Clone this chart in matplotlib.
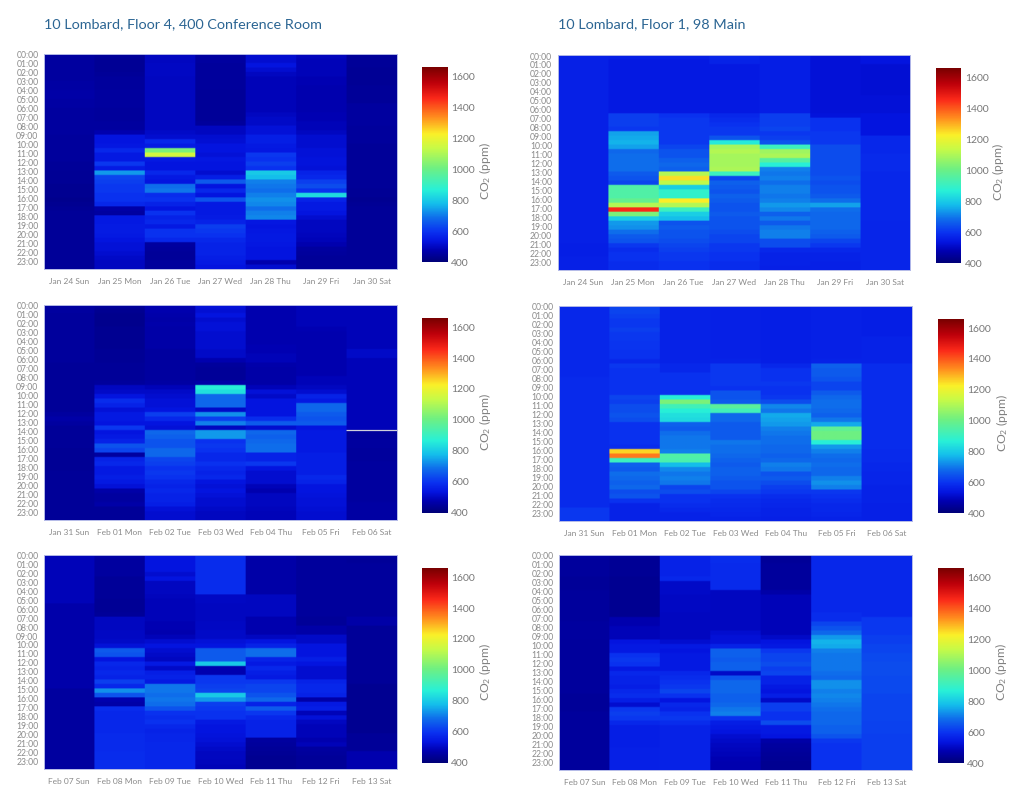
import matplotlib
matplotlib.use('Agg')
import matplotlib.pyplot as plt
from matplotlib.colors import LinearSegmentedColormap
import numpy as np

plt.rcParams['font.family'] = ['Lato', 'DejaVu Sans']
plt.rcParams['mathtext.default'] = 'regular'

HOURS = [f'{h:02d}:00' for h in range(24)]

DAYS_1 = ['Jan 24 Sun', 'Jan 25 Mon', 'Jan 26 Tue', 'Jan 27 Wed', 'Jan 28 Thu', 'Jan 29 Fri', 'Jan 30 Sat']
DAYS_2 = ['Jan 31 Sun', 'Feb 01 Mon', 'Feb 02 Tue', 'Feb 03 Wed', 'Feb 04 Thu', 'Feb 05 Fri', 'Feb 06 Sat']
DAYS_3 = ['Feb 07 Sun', 'Feb 08 Mon', 'Feb 09 Tue', 'Feb 10 Wed', 'Feb 11 Thu', 'Feb 12 Fri', 'Feb 13 Sat']

TITLE_CONF = '10 Lombard, Floor 4, 400 Conference Room'
TITLE_MAIN = '10 Lombard, Floor 1, 98 Main'

# CO2 ppm, one list per day, half hour rows (16 rows = 8 hours per line)
conf_1 = [
    [450,450,450,450,450,450,455,455,460,460,455,455,450,450,450,450,
     450,450,445,445,445,445,445,445,440,440,435,435,435,430,430,430,
     425,430,435,440,440,440,440,440,440,440,440,440,440,440,440,440],
    [440,435,435,435,440,445,445,445,450,450,450,450,445,445,445,450,
     450,470,530,530,535,570,540,540,600,545,730,620,610,600,600,590,
     590,570,460,450,540,540,545,545,540,530,520,520,510,500,490,490],
    [490,490,495,495,495,490,490,490,490,490,490,490,490,490,490,490,
     490,500,510,570,545,1020,1150,540,530,530,570,540,530,680,690,580,
     590,560,530,590,560,570,540,590,590,570,450,445,440,440,445,445],
    [450,450,445,445,445,445,445,445,440,440,440,440,440,440,440,445,
     490,490,510,515,530,530,520,535,530,530,510,550,650,530,570,530,
     640,540,540,540,545,560,610,600,590,570,560,560,560,550,540,530],
    [510,510,530,510,490,480,480,480,480,480,480,480,480,490,500,500,
     520,520,550,550,540,535,600,590,610,590,790,770,700,690,680,700,
     720,710,680,700,710,535,530,535,540,540,535,530,530,530,470,510],
    [485,480,480,480,480,475,475,470,470,470,470,470,470,475,475,480,
     480,490,510,510,510,520,520,525,525,520,560,570,610,630,590,820,
     560,540,540,530,510,490,490,490,485,480,470,450,445,440,440,440],
    [440,440,440,435,435,435,435,440,440,440,440,450,450,450,450,450,
     445,445,445,445,440,440,440,440,440,440,440,440,440,440,435,435,
     430,435,440,440,440,440,440,440,440,440,440,440,440,440,440,440],
]

conf_2 = [
    [450,450,445,445,445,445,445,445,445,445,445,445,445,440,440,440,
     440,440,440,440,440,440,440,440,450,460,450,440,440,440,440,440,
     435,435,435,435,435,440,440,440,440,440,440,440,440,440,440,440],
    [440,430,425,425,425,430,430,430,430,430,435,435,435,440,440,440,
     440,445,490,500,530,580,560,520,540,540,530,600,530,540,560,640,
     620,450,560,570,540,540,550,540,520,460,450,450,460,440,440,440],
    [470,470,465,460,465,460,460,460,460,460,450,450,450,450,450,450,
     450,455,480,500,510,520,520,530,610,570,530,520,670,660,640,640,
     670,670,620,610,590,600,590,570,560,570,560,560,550,520,510,510],
    [520,515,530,510,520,520,510,510,510,510,500,500,470,445,440,440,
     440,460,860,830,670,670,670,500,720,610,700,490,730,730,590,600,
     590,570,570,590,570,560,570,530,520,530,520,510,510,500,490,490],
    [470,470,470,470,470,470,470,470,470,475,475,480,480,465,460,460,
     460,460,480,520,500,530,530,530,530,580,650,510,670,660,670,680,
     680,560,560,600,530,510,510,510,480,470,490,490,490,485,480,480],
    [480,480,480,480,480,475,470,470,470,470,470,470,470,470,470,470,
     480,480,490,510,560,540,670,670,650,640,650,530,540,540,540,540,
     540,550,550,550,550,550,570,560,530,530,525,520,520,515,510,510],
    [480,480,480,480,480,480,480,480,480,480,500,500,480,480,480,480,
     480,480,480,480,480,480,480,480,480,480,480,480,445,445,450,450,
     445,445,445,450,450,450,450,450,450,450,450,450,455,455,455,455],
]

conf_3 = [
    [480,480,480,480,480,480,480,480,480,480,480,465,465,465,465,465,
     465,465,465,465,465,465,465,465,465,465,465,465,465,465,450,450,
     450,450,450,450,450,450,450,450,450,450,450,450,450,450,450,450],
    [455,450,450,450,450,440,440,440,440,440,435,435,435,440,490,490,
     490,495,495,500,520,650,640,530,570,560,570,560,610,570,720,640,
     470,460,580,570,570,570,570,570,575,575,575,575,580,580,580,580],
    [530,530,530,530,510,530,490,490,490,485,480,480,480,480,480,475,
     475,470,480,510,530,510,500,490,540,500,550,560,540,690,690,680,
     690,680,640,590,580,590,570,560,565,565,570,570,570,570,570,570],
    [580,580,580,580,580,580,580,580,580,495,495,490,490,490,490,495,
     495,500,500,520,530,650,650,650,790,470,470,600,600,610,620,790,
     730,610,600,590,590,540,530,530,525,520,510,500,490,490,485,480],
    [465,460,460,460,460,460,460,460,460,490,490,490,490,490,470,470,
     470,470,490,530,560,680,680,560,540,570,550,540,600,620,620,640,
     670,560,650,600,570,560,560,560,560,450,445,440,435,430,430,430],
    [445,445,445,445,445,445,445,445,445,445,445,445,445,445,440,440,
     460,460,500,500,530,530,530,550,530,510,510,510,560,570,570,560,
     460,540,550,480,520,490,480,480,480,470,480,450,445,440,440,440],
    [445,440,445,445,445,445,445,445,445,445,445,445,445,445,460,460,
     440,440,440,440,440,440,440,440,440,440,440,440,440,430,430,430,
     430,430,430,430,430,430,430,430,440,440,440,440,470,470,470,470],
]

main_1 = [
    [555,555,555,555,555,555,555,555,555,555,555,555,555,555,555,555,
     555,555,555,555,555,555,555,555,555,555,555,555,555,555,555,555,
     555,555,555,555,555,555,555,555,555,555,550,550,550,555,555,555],
    [550,540,540,540,540,540,540,540,540,540,540,540,540,610,610,610,
     600,740,750,760,740,670,680,680,680,680,650,640,620,940,940,940,
     980,1100,1450,1020,800,730,720,680,650,640,600,580,590,590,580,580],
    [550,540,540,540,540,540,540,540,540,540,540,540,540,590,600,600,
     600,600,600,600,620,640,640,660,670,660,1100,1240,1120,800,880,880,
     1220,1100,900,800,770,640,650,640,640,630,620,610,600,600,590,590],
    [565,560,540,540,540,540,540,540,540,540,540,540,540,570,580,590,
     600,600,640,850,1080,1100,1080,1080,1080,1090,900,620,660,650,640,660,
     650,640,640,650,640,640,640,630,620,620,600,600,590,590,580,580],
    [550,550,550,550,550,550,550,550,550,550,550,550,550,610,610,610,
     620,600,610,640,900,1070,1090,950,860,700,690,700,680,700,700,690,
     700,730,710,660,690,650,690,700,700,630,630,570,560,560,560,555],
    [520,520,520,520,520,520,520,520,520,520,520,520,520,525,590,590,
     590,600,600,600,630,630,630,630,630,630,630,640,630,640,640,650,
     680,740,680,670,670,670,670,660,650,620,600,570,560,560,555,555],
    [530,530,515,515,515,515,515,515,515,520,520,520,520,530,530,530,
     530,530,570,570,570,570,575,575,575,575,570,570,570,570,570,570,
     570,570,570,570,570,565,565,565,565,565,565,565,565,565,565,565],
]

main_2 = [
    [570,570,570,570,570,570,570,570,570,570,570,570,570,570,570,570,
     575,575,575,575,575,575,575,575,575,575,575,575,575,575,575,575,
     575,575,575,575,575,575,575,575,575,575,575,575,575,600,600,600],
    [620,620,610,600,600,610,600,600,595,595,590,590,570,600,590,590,
     590,590,590,590,620,610,630,630,640,630,590,590,590,590,590,580,
     1250,1350,900,660,650,680,670,660,670,630,640,590,560,560,560,560],
    [560,560,560,560,560,560,560,560,560,560,560,560,560,570,570,590,
     590,590,590,590,860,1020,910,860,830,820,660,650,680,690,690,690,
     700,940,930,770,710,690,700,690,620,630,590,590,580,570,560,560],
    [555,555,555,555,555,555,555,555,555,555,555,555,560,600,600,600,
     600,600,590,640,640,650,960,910,670,670,650,650,650,650,690,680,
     680,670,660,650,660,660,650,640,640,620,590,580,575,570,565,560],
    [550,550,550,550,550,550,550,550,550,550,550,550,550,570,590,590,
     590,600,590,590,600,630,710,690,750,740,730,700,690,680,680,670,
     670,660,670,700,690,640,650,630,610,600,580,570,565,560,560,555],
    [555,555,555,555,555,555,555,555,555,555,555,555,560,660,650,650,
     640,620,620,650,670,680,680,670,660,690,750,970,1000,1000,860,730,
     700,680,670,680,670,670,700,720,700,600,590,580,570,570,565,560],
    [550,550,550,550,550,550,550,560,560,560,560,560,560,580,580,580,
     580,580,580,580,580,580,580,580,580,580,580,580,580,580,580,580,
     575,575,575,570,570,565,565,565,560,560,560,560,555,555,555,555],
]

main_3 = [
    [450,445,445,445,445,440,440,440,445,445,445,445,445,445,445,450,
     450,450,450,445,445,445,445,445,445,445,445,445,445,445,445,440,
     440,440,440,445,445,445,445,445,445,445,445,445,445,445,445,445],
    [440,435,435,435,435,430,430,430,430,430,430,430,430,430,470,470,
     480,480,480,530,540,540,590,600,590,540,570,560,560,550,570,580,
     550,510,600,610,600,570,550,550,550,550,550,555,555,555,555,555],
    [560,560,560,560,560,570,500,500,500,495,495,495,495,490,490,490,
     490,490,490,510,540,530,540,540,540,540,570,580,590,600,620,590,
     530,570,560,590,600,580,560,560,560,560,560,560,560,560,560,560],
    [580,580,575,575,575,575,575,575,490,490,490,490,490,490,490,490,
     490,510,520,520,560,660,660,650,660,660,500,640,670,670,670,660,
     660,670,690,700,590,550,540,530,510,500,490,485,480,475,470,470],
    [440,440,445,445,445,445,445,445,460,480,480,480,480,480,480,480,
     480,480,500,530,540,600,620,620,630,610,620,560,560,540,530,550,
     500,610,610,590,590,630,540,540,530,460,450,445,440,435,430,430],
    [570,570,570,570,570,570,570,570,570,570,570,570,570,580,580,620,
     640,670,730,760,750,700,690,690,690,690,680,670,720,720,700,710,
     700,690,680,670,670,670,660,660,640,600,590,590,590,590,590,590],
    [570,570,570,570,570,570,570,570,570,570,570,570,570,570,600,600,
     600,600,610,610,620,620,625,625,630,630,630,625,625,625,625,620,
     620,620,620,620,620,615,615,615,610,610,610,610,610,610,610,610],
]

VMIN, VMAX = 394, 1652
CBAR_TICKS = [400, 600, 800, 1000, 1200, 1400, 1600]
TICK_COLOR = '#8a8a8a'
TITLE_COLOR = '#2b6593'
SPINE_COLOR = '#b4bae8'

# softer than plain jet, sampled off the reference colour bar
CMAP_STOPS = [(394, '#000078'), (470, '#0000b0'), (530, '#0415e0'), (590, '#0a32f0'),
              (680, '#0f6eeb'), (770, '#14beeb'), (860, '#28f0d7'), (1000, '#6ef082'),
              (1130, '#c8fa46'), (1220, '#faf028'), (1330, '#ff8c1e'), (1450, '#fa2819'),
              (1550, '#be000a'), (1652, '#780000')]
co2_cmap = LinearSegmentedColormap.from_list(
    'co2', [((v - VMIN) / (VMAX - VMIN), c) for v, c in CMAP_STOPS], N=512)

W, H = 1024, 803
fig = plt.figure(figsize=(W / 100, H / 100), dpi=100, facecolor='white')


def px_axes(x0, x1, y0, y1):
    return fig.add_axes([x0 / W, 1 - y1 / H, (x1 - x0) / W, (y1 - y0) / H])


def draw_panel(data, days, box, cbox, gap=None):
    ax = px_axes(*box)
    grid = np.array(data, dtype=float).T
    # repeat cells so the bilinear blur only softens the edges by a pixel or so
    fine = np.repeat(np.repeat(grid, 3, axis=0), 40, axis=1)
    im = ax.imshow(fine, cmap=co2_cmap, vmin=VMIN, vmax=VMAX, aspect='auto',
                   extent=(0, 7, 24, 0), interpolation='bilinear')
    ax.set_ylim(24, 0)
    ax.set_xlim(0, 7)
    ax.set_yticks(np.arange(24))
    ax.set_yticklabels(HOURS, fontsize=6.2, color=TICK_COLOR)
    ax.set_xticks(np.arange(7) + 0.5)
    ax.set_xticklabels(days, fontsize=6, color=TICK_COLOR)
    ax.tick_params(length=0, pad=4)
    ax.tick_params(axis='x', pad=5.5)
    for s in ax.spines.values():
        s.set_color(SPINE_COLOR)
        s.set_linewidth(0.7)
    if gap is not None:
        ax.hlines(gap[1], gap[0], gap[0] + 1, color='#d0d0dc', linewidth=0.9)

    cax = px_axes(*cbox)
    cb = fig.colorbar(im, cax=cax)
    cb.set_ticks(CBAR_TICKS)
    cb.outline.set_visible(False)
    cax.tick_params(length=0, pad=2.5, labelsize=7.5, labelcolor='#777777')
    cb.set_label('CO$_2$ (ppm)', fontsize=8.7, color='#808080')
    cax.yaxis.set_label_coords(2.16, 0.47)
    return ax


# day index and hour of the one missing sample
gap_day = 6
gap_hour = 14

draw_panel(conf_1, DAYS_1, (44, 396.7, 55, 270), (422.3, 447.7, 68, 263))
draw_panel(conf_2, DAYS_2, (44, 396.7, 305.7, 521), (422.3, 447.7, 319, 513.7), gap=(gap_day, gap_hour))
draw_panel(conf_3, DAYS_3, (44, 396.7, 555.7, 770), (422.3, 447.7, 569, 763.7))
draw_panel(main_1, DAYS_1, (557.7, 910.3, 56, 271), (936.3, 961.3, 69, 264))
draw_panel(main_2, DAYS_2, (559.3, 912, 307, 522.3), (938.3, 964, 320, 514))
draw_panel(main_3, DAYS_3, (559.3, 912, 555.7, 771), (938.3, 963.7, 569, 764))

fig.text(44 / W, 1 - 24.5 / H, TITLE_CONF, fontsize=10.35, color=TITLE_COLOR, va='center', ha='left')
fig.text(557.5 / W, 1 - 24.5 / H, TITLE_MAIN, fontsize=10.35, color=TITLE_COLOR, va='center', ha='left')

fig.savefig('out.png', dpi=100, facecolor='white')
